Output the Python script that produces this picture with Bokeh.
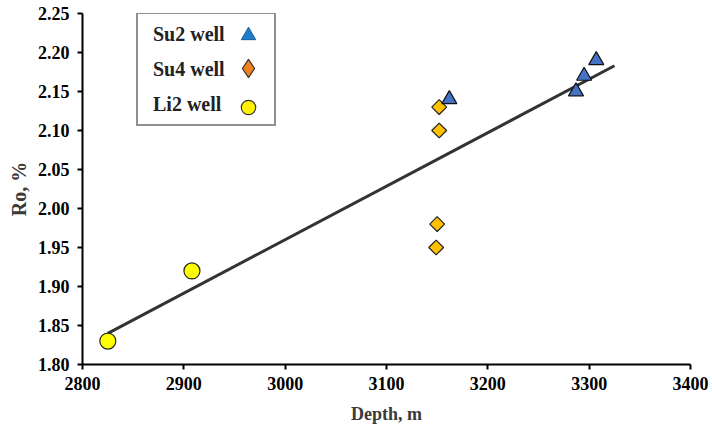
from bokeh.plotting import figure
from bokeh.models import (Range1d, FixedTicker, NumeralTickFormatter, Legend, LegendItem)
from bokeh.embed import file_html
from bokeh.resources import INLINE
import math

# ---- data ----
su2_depth = [3162, 3287, 3295, 3307]
su2_ro = [2.14, 2.15, 2.17, 2.19]
su4_depth = [3152, 3152, 3150, 3149]
su4_ro = [2.13, 2.10, 1.98, 1.95]
li2_depth = [2825, 2908]
li2_ro = [1.83, 1.92]
trend_depth = [2825, 3325]
trend_ro = [1.84, 2.183]
x_ticks = [2800, 2900, 3000, 3100, 3200, 3300, 3400]
y_ticks = [1.80, 1.85, 1.90, 1.95, 2.00, 2.05, 2.10, 2.15, 2.20, 2.25]
series_names = ["Su2 well", "Su4 well", "Li2 well"]

FONT = "Liberation Serif"

p = figure(width=712, height=428, output_backend="svg", toolbar_location=None,
           x_range=Range1d(2800, 3400), y_range=Range1d(1.80, 2.25),
           min_border_left=82, min_border_right=22, min_border_top=13, min_border_bottom=64)
p.outline_line_color = None
p.xgrid.visible = False
p.ygrid.visible = False
p.background_fill_color = "white"
p.border_fill_color = "white"

for ax in (p.xaxis[0], p.yaxis[0]):
    ax.axis_line_width = 2
    ax.axis_line_color = "black"
    ax.major_tick_line_width = 2
    ax.major_tick_line_color = "black"
    ax.major_tick_in = 0
    ax.major_tick_out = 5
    ax.minor_tick_line_color = None
    ax.major_label_text_font = FONT
    ax.major_label_text_font_style = "bold"
    ax.major_label_text_font_size = "18px"
    ax.major_label_text_color = "black"
    ax.axis_label_text_font = FONT
    ax.axis_label_text_font_style = "bold"
    ax.axis_label_text_color = "#3a3a3a"

p.xaxis.axis_label_text_font_size = "18px"
p.yaxis.axis_label_text_font_size = "20px"
p.xaxis.ticker = FixedTicker(ticks=x_ticks)
p.yaxis.ticker = FixedTicker(ticks=y_ticks)
p.yaxis.formatter = NumeralTickFormatter(format="0.00")
p.xaxis.axis_label = "Depth, m"
p.yaxis.axis_label = "Ro, %"
p.xaxis.major_label_standoff = 7
p.yaxis.major_label_standoff = 8
p.xaxis.axis_label_standoff = 11
p.yaxis.axis_label_standoff = 5

# trend line
p.line(trend_depth, trend_ro, line_color="#333333", line_width=3)

# data points
p.scatter(li2_depth, li2_ro, marker="circle", size=16, fill_color="#FFFF00",
          line_color="#222222", line_width=1.2)
p.scatter(su4_depth, su4_ro, marker="square", angle=math.pi / 4, size=10.5,
          fill_color="#FFC000", line_color="#222222", line_width=1.2)
p.scatter(su2_depth, su2_ro, marker="triangle", size=15, fill_color="#4472C4",
          line_color="#111111", line_width=1.2)

# legend: text box (invisible glyphs)
txt_renderers = [p.scatter(su2_depth, su2_ro, marker="circle", size=1,
                           fill_alpha=0, line_alpha=0, visible=False) for _ in series_names]
leg_text = Legend(items=[LegendItem(label=n, renderers=[r]) for n, r in zip(series_names, txt_renderers)],
                  location=(54, 238), padding=8, spacing=11, glyph_width=1, glyph_height=24,
                  label_height=24, label_standoff=6, label_width=113,
                  label_text_font=FONT, label_text_font_style="bold", label_text_font_size="20px",
                  label_text_color="#222222", border_line_color="#222222", border_line_width=2,
                  background_fill_color="white", background_fill_alpha=1, margin=0,
                  click_policy="none")
p.add_layout(leg_text, "center")

# legend markers (legend-only renderers, hidden in the plot)
m1 = p.scatter(su2_depth, su2_ro, marker="triangle", fill_color="#1E7DC8",
               line_color="#1A5E96", line_width=1, visible=False)
m3 = p.scatter(li2_depth, li2_ro, marker="circle", fill_color="#FFF200",
               line_color="#333333", line_width=1.2, visible=False)
leg_mark = Legend(items=[LegendItem(label="", renderers=[m1]), LegendItem(label="", renderers=[m3])],
                  location=(148, 239), padding=0, spacing=36, glyph_width=36, glyph_height=36,
                  label_width=0, label_height=0, label_standoff=0,
                  border_line_color=None, background_fill_alpha=0, margin=0,
                  click_policy="none")
p.add_layout(leg_mark, "center")

m2 = p.scatter(su4_depth, su4_ro, marker="diamond", fill_color="#F08020",
               line_color="#333333", line_width=1.2, visible=False)
leg_dia = Legend(items=[LegendItem(label="", renderers=[m2])],
                 location=(143, 273), padding=0, spacing=0, glyph_width=46, glyph_height=46,
                 label_width=0, label_height=0, label_standoff=0,
                 border_line_color=None, background_fill_alpha=0, margin=0,
                 click_policy="none")
p.add_layout(leg_dia, "center")

open("out.html", "w").write(file_html(p, INLINE))
